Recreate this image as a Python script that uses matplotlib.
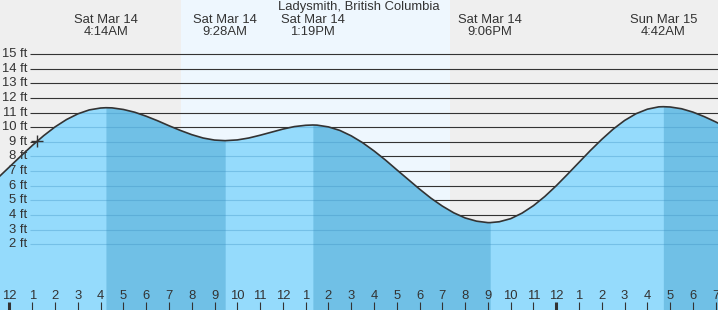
import matplotlib
matplotlib.use("Agg")
import matplotlib.pyplot as plt
import numpy as np

# hours counted from Sat Mar 14, 00:00 ; heights in ft
hours = [-0.5, 0, 0.5, 1, 1.5, 2, 2.5, 3, 3.5, 4, 4.233, 4.5, 5, 5.5, 6, 6.5, 7, 7.5,
         8, 8.5, 9, 9.467, 10, 10.5, 11, 11.5, 12, 12.5, 13, 13.317, 13.5, 14, 14.5,
         15, 15.5, 16, 16.5, 17, 17.5, 18, 18.5, 19, 19.5, 20, 20.5, 21, 21.1, 21.5,
         22, 22.5, 23, 23.5, 24, 24.5, 25, 25.5, 26, 26.5, 27, 27.5, 28, 28.5, 28.7,
         29, 29.5, 30, 30.5, 31, 31.5]
height_ft = [6.55, 7.29, 8.03, 8.75, 9.42, 10.02, 10.52, 10.91, 11.18, 11.31, 11.33,
             11.32, 11.21, 11.02, 10.75, 10.44, 10.10, 9.78, 9.49, 9.26, 9.12, 9.08,
             9.13, 9.26, 9.45, 9.66, 9.87, 10.04, 10.13, 10.15, 10.14, 10.02, 9.78,
             9.41, 8.94, 8.38, 7.76, 7.09, 6.43, 5.77, 5.15, 4.61, 4.15, 3.80, 3.58,
             3.48, 3.48, 3.54, 3.75, 4.13, 4.64, 5.27, 6.00, 6.79, 7.60, 8.41, 9.17,
             9.87, 10.46, 10.92, 11.23, 11.39, 11.40, 11.38, 11.26, 11.03, 10.72,
             10.36, 9.96]

extreme_hours = [4.233, 9.467, 13.317, 21.1, 28.7]
extreme_kind = ["high", "low", "high", "low", "high"]
extreme_day = ["Sat Mar 14", "Sat Mar 14", "Sat Mar 14", "Sat Mar 14", "Sun Mar 15"]
extreme_time = ["4:14AM", "9:28AM", "1:19PM", "9:06PM", "4:42AM"]

sunrise, sunset = 7.53, 19.34
now_hour, now_ft = 1.22, 9.07
ft_levels = list(range(2, 16))
hour_ticks = list(range(0, 32))

title = "Ladysmith, British Columbia"

TXT = "#333333"
plt.rcParams['font.family'] = ['Liberation Sans', 'DejaVu Sans']
fs = 9.4

fig = plt.figure(figsize=(7.18, 3.10), dpi=100)
ax = fig.add_axes([0, 0, 1, 1])
x0, x1 = -0.417, 31.1
y0, y1 = -2.49, 18.69
ax.set_xlim(x0, x1)
ax.set_ylim(y0, y1)
ax.axis("off")
ax.add_patch(plt.Rectangle((x0, y0), x1 - x0, y1 - y0, color="#efefef", zorder=0))
ax.axvspan(sunrise, sunset, color="#eef7fe", zorder=0.5, lw=0)

# ft grid lines and labels
ax.hlines(ft_levels, 0.878, x1, color="#333333", lw=0.8, zorder=1)
for f in ft_levels:
    ax.text(0.768, f, f"{f} ft", ha="right", va="center", fontsize=fs, color=TXT, zorder=6)

# water fill
t = np.array(hours)
h = np.array(height_ft)
fill = ax.fill_between(t, h, y0, color="#95dbfc", lw=0, zorder=2)
for i in range(len(extreme_hours) - 1):
    if extreme_kind[i] == "high":
        m = (t >= extreme_hours[i]) & (t <= extreme_hours[i + 1])
        ax.fill_between(t[m], h[m], y0, color="#70c0e6", lw=0, zorder=2.1)
m = t >= extreme_hours[-1]
ax.fill_between(t[m], h[m], y0, color="#70c0e6", lw=0, zorder=2.1)

inner = ax.hlines(ft_levels, 0.878, x1, color="#3a8ec0", lw=0.8, alpha=0.35, zorder=3)
inner.set_clip_path(fill.get_paths()[0], ax.transData)

ax.plot(t, h, color="#333333", lw=1.2, zorder=4, solid_joinstyle="round")
ax.plot([now_hour], [now_ft], marker="+", ms=8, mew=1.0, color="#333333", zorder=5)

# extreme labels
for eh, d, tm in zip(extreme_hours, extreme_day, extreme_time):
    ax.text(eh, 17.32, d, ha="center", va="center", fontsize=fs, color=TXT, zorder=6)
    ax.text(eh, 16.48, tm, ha="center", va="center", fontsize=fs, color=TXT, zorder=6)

fig.text(0.5, 1 - 7.3 / 310, title, ha="center", va="center", fontsize=fs, color=TXT)

# hour axis along the bottom
for hr in hour_ticks:
    lab = 12 if hr % 12 == 0 else hr % 12
    ax.text(hr, -1.53, str(lab), ha="center", va="center", fontsize=fs, color=TXT, zorder=6)
    ax.vlines(hr, y0, -1.94, color="#333333", lw=2.2 if hr % 24 == 0 else 0.8, zorder=6)

fig.savefig("out.png", dpi=100)
